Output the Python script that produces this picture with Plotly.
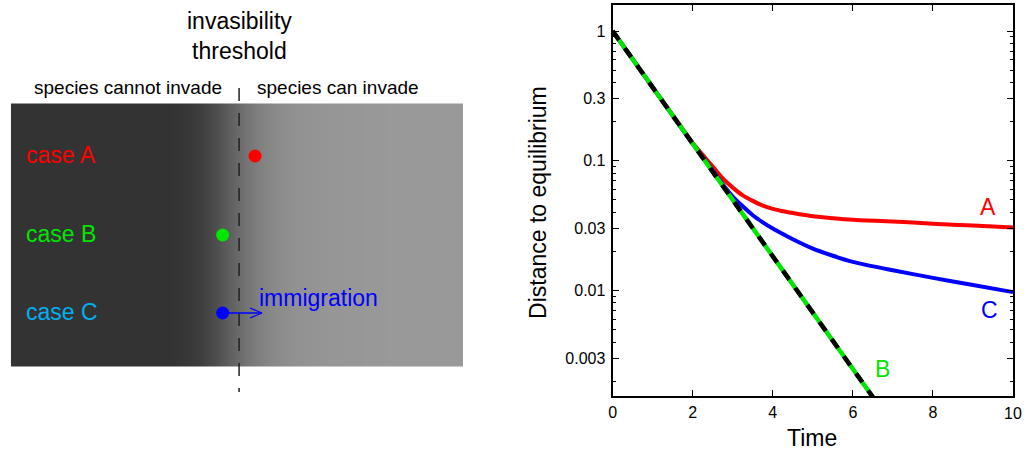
import numpy as np
import plotly.graph_objects as go

# ---------------- data ----------------
time_grid = [0, 0.5, 1, 1.5, 2, 2.25, 2.5, 2.75, 3, 3.25, 3.5, 3.75, 4, 4.25, 4.5,
             5, 5.5, 6, 7, 8, 9, 10]
case_A = [1.0, 0.607, 0.368, 0.224, 0.137, 0.111, 0.090, 0.073, 0.062, 0.054, 0.049,
          0.045, 0.0425, 0.0408, 0.0395, 0.0373, 0.036, 0.035, 0.0340, 0.0327, 0.0316, 0.0306]
case_C = [1.0, 0.607, 0.368, 0.223, 0.135, 0.107, 0.084, 0.066, 0.053, 0.0445, 0.038,
          0.0335, 0.030, 0.0272, 0.0248, 0.021, 0.0185, 0.0166, 0.0143, 0.0125, 0.011, 0.0097]
time_B = [0, 2, 4, 6, 6.6]
case_B = [1.0, 0.135, 0.0183, 0.00248, 0.00136]

y_tickvals = [0.003, 0.01, 0.03, 0.1, 0.3, 1]
y_ticktext = ["0.003", "0.01", "0.03", "0.1", "0.3", "1"]
y_minor = [0.002, 0.004, 0.005, 0.006, 0.007, 0.008, 0.009,
           0.02, 0.04, 0.05, 0.06, 0.07, 0.08, 0.09,
           0.2, 0.4, 0.5, 0.6, 0.7, 0.8, 0.9]
x_tickvals = [0, 2, 4, 6, 8, 10]
x_ticktext = ["0", "2", "4", "6", "8", ""]   # last label drawn as an annotation
x_last_label = "10"

grad_x = [10, 170, 185, 200, 215, 230, 245, 260, 275, 295, 330, 400, 464]
grad_level = [51, 51, 54, 62, 76, 95, 113, 128, 138, 145, 150, 153, 153]
case_names = ["case A", "case B", "case C"]
case_text_colors = ["#ff0000", "#00e600", "#00b0f0"]
case_y = [155, 234, 312]
dot_x = [255, 222.5, 222.5]
dot_y = [156, 235, 313]
dot_colors = ["#ff0000", "#00e600", "#0000ff"]

FONT = "Liberation Sans, Arial, Helvetica, sans-serif"
W, H = 1024, 452
LEFT_SHIFT = 3  # observed offset of the schematic panel

fig = go.Figure()

# ---------------- left panel ----------------
edges_x = np.arange(10, 465)
centers = (edges_x[:-1] + edges_x[1:]) / 2
levels = np.interp(centers, grad_x, grad_level)
fig.add_trace(go.Heatmap(
    x=edges_x, y=[103.5, 366], z=[levels], zmin=0, zmax=255,
    colorscale=[[0, "rgb(0,0,0)"], [1, "rgb(255,255,255)"]],
    showscale=False, hoverinfo="skip", xaxis="x", yaxis="y"))
fig.add_trace(go.Scatter(x=[239, 239], y=[88, 392], mode="lines",
                         line=dict(color="#222222", width=1.5, dash="13px,12px"),
                         xaxis="x", yaxis="y", hoverinfo="skip", showlegend=False))
fig.add_trace(go.Scatter(x=[222.5, 262], y=[313, 313], mode="lines",
                         line=dict(color="#0000ff", width=1.3),
                         xaxis="x", yaxis="y", hoverinfo="skip", showlegend=False))
fig.add_trace(go.Scatter(x=[250, 262, 250], y=[308, 313, 318], mode="lines",
                         line=dict(color="#0000ff", width=1.3),
                         xaxis="x", yaxis="y", hoverinfo="skip", showlegend=False))
fig.add_trace(go.Scatter(x=dot_x, y=dot_y, mode="markers",
                         marker=dict(size=13, color=dot_colors, line=dict(width=0)),
                         xaxis="x", yaxis="y", hoverinfo="skip", showlegend=False))

ann = []
for name, col, yy in zip(case_names, case_text_colors, case_y):
    ann.append(dict(x=23, y=yy, xref="x", yref="y", text=name, showarrow=False,
                    xanchor="left", yanchor="middle", font=dict(size=23, color=col, family=FONT)))
ann.append(dict(x=257, y=298, xref="x", yref="y", text="immigration", showarrow=False,
                xanchor="left", yanchor="middle", font=dict(size=23, color="#0000ff", family=FONT)))
ann.append(dict(x=239, y=36, xref="x", yref="y", text="invasibility<br>threshold",
                showarrow=False, xanchor="center", yanchor="middle",
                font=dict(size=23, color="black", family=FONT)))
ann.append(dict(x=127, y=87, xref="x", yref="y", text="species cannot invade", showarrow=False,
                xanchor="center", yanchor="middle", font=dict(size=19, color="black", family=FONT)))
ann.append(dict(x=338, y=87, xref="x", yref="y", text="species can invade", showarrow=False,
                xanchor="center", yanchor="middle", font=dict(size=19, color="black", family=FONT)))

# ---------------- right panel ----------------
fig.add_trace(go.Scatter(x=time_grid, y=case_A, mode="lines",
                         line=dict(color="#ff0000", width=4, shape="spline", smoothing=0.8),
                         xaxis="x2", yaxis="y2", showlegend=False))
fig.add_trace(go.Scatter(x=time_grid, y=case_C, mode="lines",
                         line=dict(color="#0000ff", width=4, shape="spline", smoothing=0.8),
                         xaxis="x2", yaxis="y2", showlegend=False))
fig.add_trace(go.Scatter(x=time_B, y=case_B, mode="lines", line=dict(color="#00e600", width=4.5),
                         xaxis="x2", yaxis="y2", showlegend=False))
fig.add_trace(go.Scatter(x=time_B, y=case_B, mode="lines",
                         line=dict(color="black", width=4.5, dash="11px,10px"),
                         xaxis="x2", yaxis="y2", showlegend=False))

ann.append(dict(x=9.38, y=np.log10(0.0443), xref="x2", yref="y2", text="A", showarrow=False,
                font=dict(size=23, color="#ff0000", family=FONT)))
ann.append(dict(x=9.4, y=np.log10(0.00706), xref="x2", yref="y2", text="C", showarrow=False,
                font=dict(size=23, color="#0000ff", family=FONT)))
ann.append(dict(x=6.75, y=np.log10(0.00248), xref="x2", yref="y2", text="B", showarrow=False,
                font=dict(size=23, color="#00e600", family=FONT)))
ann.append(dict(x=x_tickvals[-1], y=1 - 413 / H, xref="x2", yref="paper", text=x_last_label,
                showarrow=False, xanchor="center", yanchor="middle", borderpad=0,
                font=dict(size=16, color="black", family=FONT)))
ann.append(dict(x=811 / W, y=1 - 438 / H, xref="paper", yref="paper", text="Time",
                showarrow=False, xanchor="center", yanchor="middle",
                font=dict(size=23, color="black", family=FONT)))
ann.append(dict(x=536 / W, y=1 - 202 / H, xref="paper", yref="paper",
                text="Distance to equilibrium", showarrow=False, textangle=-90,
                xanchor="center", yanchor="middle",
                font=dict(size=23, color="black", family=FONT)))

fig.update_layout(
    width=W, height=H, margin=dict(l=0, r=0, t=0, b=0),
    paper_bgcolor="white", plot_bgcolor="white", showlegend=False,
    font=dict(family=FONT, color="black"),
    xaxis=dict(domain=[0, 0.5], range=[LEFT_SHIFT, 512 + LEFT_SHIFT], visible=False, fixedrange=True),
    yaxis=dict(domain=[0, 1], range=[452, 0], visible=False, fixedrange=True),
    xaxis2=dict(domain=[611 / W, 1013 / W], anchor="y2", range=[0, 10],
                tickvals=x_tickvals, ticktext=x_ticktext,
                ticks="inside", ticklen=6, tickwidth=1, tickcolor="black",
                showline=True, linecolor="black", linewidth=2, mirror="ticks",
                showgrid=False, zeroline=False, tickfont=dict(size=16, family=FONT),
                ticklabelstandoff=1),
    yaxis2=dict(domain=[1 - 396 / H, 1 - 5 / H], anchor="x2", type="log",
                range=[-2.814, 0.2005], tickvals=y_tickvals, ticktext=y_ticktext,
                ticks="inside", ticklen=6, tickwidth=1, tickcolor="black",
                minor=dict(tickvals=y_minor, ticks="inside", ticklen=3, tickcolor="black", showgrid=False),
                showline=True, linecolor="black", linewidth=2, mirror="ticks",
                showgrid=False, zeroline=False, tickfont=dict(size=16, family=FONT),
                ticklabelstandoff=2),
    annotations=ann,
)

fig.write_html("out.html")
